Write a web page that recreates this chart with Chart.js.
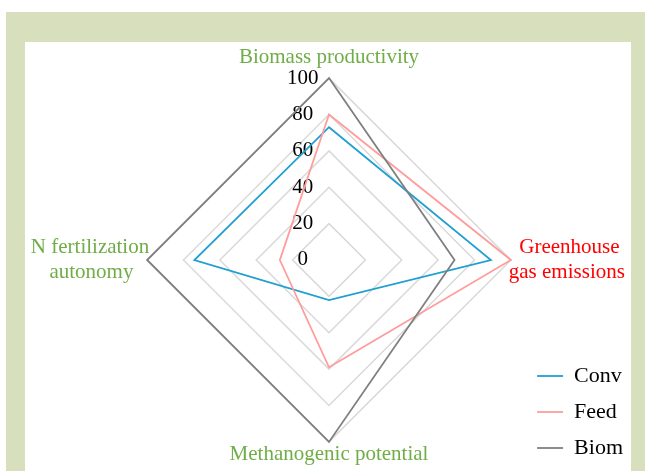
<!DOCTYPE html>
<html>
<head>
<meta charset="utf-8">
<script src="https://cdn.jsdelivr.net/npm/chart.js@4.4.1/dist/chart.umd.min.js"></script>
<style>
  html, body { margin: 0; padding: 0; background: #fff; }
  #wrap { position: relative; width: 645px; height: 471px; overflow: hidden; }
  #frame { position: absolute; left: 6px; top: 12px; width: 639px; height: 459px; background: #d7dfbd; }
  #inner { position: absolute; left: 25px; top: 42px; width: 606px; height: 429px; background: #fff; }
  #radar { position: absolute; left: 0; top: 0; }
</style>
</head>
<body>
<div id="wrap">
  <div id="frame"></div>
  <div id="inner"></div>
  <canvas id="radar" width="645" height="471"></canvas>
</div>
<script>
// axes of the radar, clockwise from the top (nbsp keeps the two-line labels centred)
const axisLabels = [
  ['Biomass productivity'],
  ['\u00a0\u00a0Greenhouse', 'gas emissions'],
  ['Methanogenic potential'],
  ['N fertilization', 'autonomy\u00a0\u00a0\u00a0']
];
const axisColors = ['#70ad47', '#ff0000', '#70ad47', '#70ad47'];
const axisPadding = [10, 0, 2, 0];

const seriesNames = ['Conv', 'Feed', 'Biom'];
const convValues = [73, 89, 22, 74];
const feedValues = [80, 100, 59, 27];
const biomValues = [100, 69, 100, 100];
const seriesColors = ['#1f9fd2', '#ff9c9c', '#7f7f7f'];

const tickValues = [0, 20, 40, 60, 80, 100];

const FONT = 'Liberation Serif';

// legend sits inside the plot, bottom right, without taking room from the radar
const legendInArea = {
  id: 'legendInArea',
  afterLayout(chart) {
    const lg = chart.legend;
    if (!lg) return;
    lg.right = chart.width - 12;
    lg.left = lg.right - lg.width;
    lg.top = chart.chartArea.top;
    lg.bottom = chart.height + 2;
    lg.height = lg.bottom - lg.top;
  }
};

const allValues = [convValues, feedValues, biomValues];

new Chart(document.getElementById('radar'), {
  type: 'radar',
  data: {
    labels: axisLabels,
    datasets: seriesNames.map((name, i) => ({
      label: name,
      data: allValues[i],
      borderColor: seriesColors[i],
      backgroundColor: seriesColors[i],
      borderWidth: 1.8,
      fill: false,
      tension: 0,
      pointRadius: 0,
      pointHoverRadius: 0,
      order: seriesNames.length - i
    }))
  },
  options: {
    responsive: false,
    animation: false,
    devicePixelRatio: 1,
    layout: { padding: { left: 23.5, right: 11.5, top: 41, bottom: -14.4 } },
    plugins: {
      tooltip: { enabled: false },
      legend: {
        position: 'chartArea',
        align: 'end',
        labels: {
          sort: (a, b) => a.datasetIndex - b.datasetIndex,
          usePointStyle: true,
          pointStyle: 'line',
          pointStyleWidth: 26,
          padding: 14,
          color: '#000',
          font: { family: FONT, size: 22 }
        }
      }
    },
    scales: {
      r: {
        min: -0.01,
        max: 100,
        afterBuildTicks: scale => { scale.ticks = tickValues.map(v => ({ value: v })); },
        angleLines: { display: false },
        grid: {
          color: c => (c.index === 0 ? 'rgba(0,0,0,0)' : '#d9d9d9'),
          lineWidth: 1.5
        },
        ticks: {
          showLabelBackdrop: false,
          // no backdrop is drawn; cancel the room the scale keeps for it
          backdropPadding: { x: 0, y: -12.6 },
          color: '#000',
          font: { family: FONT, size: 21 },
          callback: v => v + '\u00a0'.repeat(10)
        },
        pointLabels: {
          padding: c => axisPadding[c.index],
          color: c => axisColors[c.index],
          font: { family: FONT, size: 21 }
        }
      }
    }
  },
  plugins: [legendInArea]
});
</script>
</body>
</html>
